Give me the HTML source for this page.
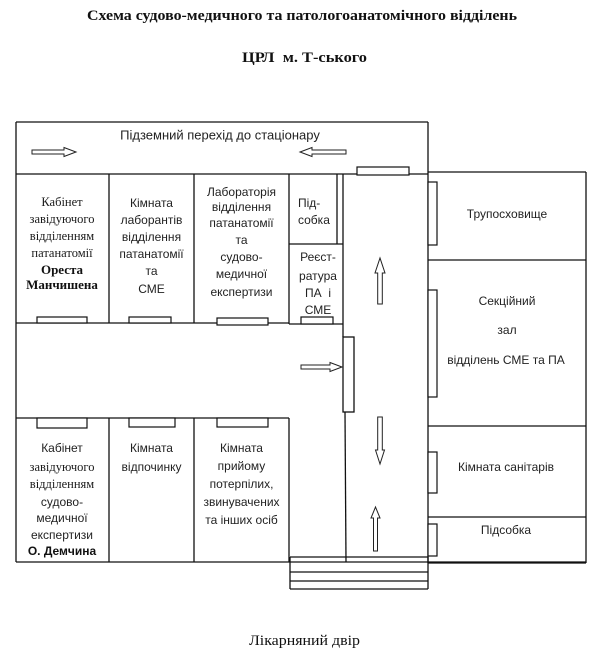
<!DOCTYPE html>
<html>
<head>
<meta charset="utf-8">
<style>
html,body{margin:0;padding:0;background:#fff;}
svg{display:block;}
.s{font-family:"Liberation Sans","DejaVu Sans",sans-serif;font-size:12px;fill:#222;}
.r{font-family:"Liberation Serif","DejaVu Serif",serif;font-size:12.5px;fill:#1a1a1a;}
.rb{font-family:"Liberation Serif","DejaVu Serif",serif;font-size:13px;font-weight:bold;fill:#111;}
.sb{font-family:"Liberation Sans","DejaVu Sans",sans-serif;font-size:12px;font-weight:bold;fill:#111;}
</style>
</head>
<body>
<svg width="600" height="653" viewBox="0 0 600 653" xmlns="http://www.w3.org/2000/svg">
<rect width="600" height="653" fill="#fff"/>

<!-- Titles -->
<text x="302" y="20" text-anchor="middle" font-family="Liberation Serif, serif" font-weight="bold" font-size="14.5" fill="#111" textLength="430" lengthAdjust="spacingAndGlyphs">Схема судово-медичного та патологоанатомічного відділень</text>
<text x="304.5" y="62" text-anchor="middle" font-family="Liberation Serif, serif" font-weight="bold" font-size="14.5" fill="#111" xml:space="preserve" textLength="125" lengthAdjust="spacingAndGlyphs">ЦРЛ  м. Т-ського</text>
<text x="304.5" y="645" text-anchor="middle" font-family="Liberation Serif, serif" font-size="14.5" fill="#111" textLength="111" lengthAdjust="spacingAndGlyphs">Лікарняний двір</text>

<g stroke="#111" stroke-width="1.3" fill="none">
  <!-- top corridor -->
  <line x1="16" y1="122" x2="428" y2="122"/>
  <line x1="16" y1="122" x2="16" y2="562"/>
  <line x1="428" y1="122" x2="428" y2="563"/>
  <line x1="16" y1="174" x2="428" y2="174"/>
  <!-- top rooms -->
  <line x1="109" y1="174" x2="109" y2="323"/>
  <line x1="194" y1="174" x2="194" y2="323"/>
  <line x1="289" y1="174" x2="289" y2="324"/>
  <line x1="16" y1="323" x2="289" y2="323"/>
  <!-- підсобка / реєстратура -->
  <line x1="337" y1="174" x2="337" y2="244"/>
  <line x1="343" y1="174" x2="343" y2="337"/>
  <line x1="289" y1="244" x2="343" y2="244"/>
  <line x1="289" y1="324" x2="343" y2="324"/>
  <!-- corridor vertical door and wall -->
  <rect x="343" y="337" width="11" height="75" fill="#fff"/>
  <line x1="345" y1="412" x2="346" y2="562"/>
  <!-- bottom rooms -->
  <line x1="16" y1="418" x2="289" y2="418"/>
  <line x1="109" y1="418" x2="109" y2="562"/>
  <line x1="194" y1="418" x2="194" y2="562"/>
  <line x1="289" y1="418" x2="289" y2="562"/>
  <line x1="16" y1="562" x2="586" y2="562"/>
  <!-- right wing -->
  <line x1="428" y1="172" x2="586" y2="172"/>
  <line x1="586" y1="172" x2="586" y2="563"/>
  <line x1="428" y1="260" x2="586" y2="260"/>
  <line x1="428" y1="426" x2="586" y2="426"/>
  <line x1="428" y1="517" x2="586" y2="517"/>
  <line x1="428" y1="563" x2="586" y2="563"/>
  <!-- steps -->
  <line x1="290" y1="557" x2="428" y2="557"/>
  <line x1="290" y1="572" x2="428" y2="572"/>
  <line x1="290" y1="581" x2="428" y2="581"/>
  <line x1="290" y1="589" x2="428" y2="589"/>
  <line x1="290" y1="557" x2="290" y2="589"/>
  <line x1="428" y1="557" x2="428" y2="589"/>
</g>

<!-- doors -->
<g stroke="#111" stroke-width="1.2" fill="#fff">
  <rect x="357" y="167" width="52" height="8"/>
  <rect x="37" y="317" width="50" height="6"/>
  <rect x="129" y="317" width="42" height="6"/>
  <rect x="217" y="318" width="51" height="7"/>
  <rect x="301" y="317" width="32" height="7"/>
  <rect x="37" y="418" width="50" height="10"/>
  <rect x="129" y="418" width="46" height="9"/>
  <rect x="217" y="418" width="51" height="9"/>
  <rect x="428" y="182" width="9" height="63"/>
  <rect x="428" y="290" width="9" height="107"/>
  <rect x="428" y="452" width="9" height="41"/>
  <rect x="428" y="524" width="9" height="32"/>
</g>

<!-- arrows -->
<g stroke="#222" stroke-width="1" fill="#fff">
  <polygon points="32,150 64,150 64,147.5 76,152 64,156.5 64,154 32,154"/>
  <polygon points="346,150 312,150 312,147.5 300,152 312,156.5 312,154 346,154"/>
  <polygon points="301,365 330,365 330,362.5 342,367 330,371.5 330,369 301,369"/>
  <polygon points="377.7,304 377.7,273 375,273 380,258 385,273 382.3,273 382.3,304"/>
  <polygon points="377.7,417 377.7,450 375.5,450 380,464 384.5,450 382.3,450 382.3,417"/>
  <polygon points="373.5,551 373.5,518 371,518 375.5,507 380,518 377.5,518 377.5,551"/>
</g>

<!-- corridor label -->
<text x="220" y="139.5" text-anchor="middle" class="s" style="font-size:13px">Підземний перехід до стаціонару</text>

<g text-anchor="middle">
  <!-- top room 1 -->
  <text x="62" y="206" class="r">Кабінет</text>
  <text x="62" y="223" class="r">завідуючого</text>
  <text x="62" y="240" class="r">відділенням</text>
  <text x="62" y="257" class="r">патанатомії</text>
  <text x="62" y="274" class="rb">Ореста</text>
  <text x="62" y="289" class="rb">Манчишена</text>

  <!-- top room 2 -->
  <text x="151.5" y="207" class="s">Кімната</text>
  <text x="151.5" y="224" class="s">лаборантів</text>
  <text x="151.5" y="241" class="s">відділення</text>
  <text x="151.5" y="258" class="s">патанатомії</text>
  <text x="151.5" y="275" class="s">та</text>
  <text x="151.5" y="293" class="s">СМЕ</text>

  <!-- top room 3 -->
  <text x="241.5" y="196" class="s">Лабораторія</text>
  <text x="241.5" y="211" class="s">відділення</text>
  <text x="241.5" y="227" class="s">патанатомії</text>
  <text x="241.5" y="244" class="s">та</text>
  <text x="241.5" y="261" class="s">судово-</text>
  <text x="241.5" y="278" class="s">медичної</text>
  <text x="241.5" y="296" class="s">експертизи</text>

  <!-- реєстратура -->
  <text x="318" y="261" class="s">Реєст-</text>
  <text x="318" y="280" class="s">ратура</text>
  <text x="318" y="297" class="s" xml:space="preserve">ПА  і</text>
  <text x="318" y="314" class="s">СМЕ</text>

  <!-- right wing -->
  <text x="507" y="218" class="s">Трупосховище</text>
  <text x="507" y="305" class="s">Секційний</text>
  <text x="507" y="334" class="s">зал</text>
  <text x="506" y="364" class="s">відділень СМЕ та ПА</text>
  <text x="506" y="471" class="s">Кімната санітарів</text>
  <text x="506" y="534" class="s">Підсобка</text>

  <!-- bottom room 1 -->
  <text x="62" y="452" class="s">Кабінет</text>
  <text x="62" y="471" class="r">завідуючого</text>
  <text x="62" y="488" class="r">відділенням</text>
  <text x="62" y="506" class="s">судово-</text>
  <text x="62" y="522" class="s">медичної</text>
  <text x="62" y="539" class="s">експертизи</text>
  <text x="62" y="555" class="sb">О. Демчина</text>

  <!-- bottom room 2 -->
  <text x="151.5" y="452" class="s">Кімната</text>
  <text x="151.5" y="471" class="s">відпочинку</text>

  <!-- bottom room 3 -->
  <text x="241.5" y="452" class="s">Кімната</text>
  <text x="241.5" y="470" class="s">прийому</text>
  <text x="241.5" y="488" class="s">потерпілих,</text>
  <text x="241.5" y="506" class="s">звинувачених</text>
  <text x="241.5" y="524" class="s">та інших осіб</text>
</g>

<!-- підсобка (left aligned) -->
<text x="298" y="207" class="s">Під-</text>
<text x="298" y="224" class="s">собка</text>
</svg>
</body>
</html>
